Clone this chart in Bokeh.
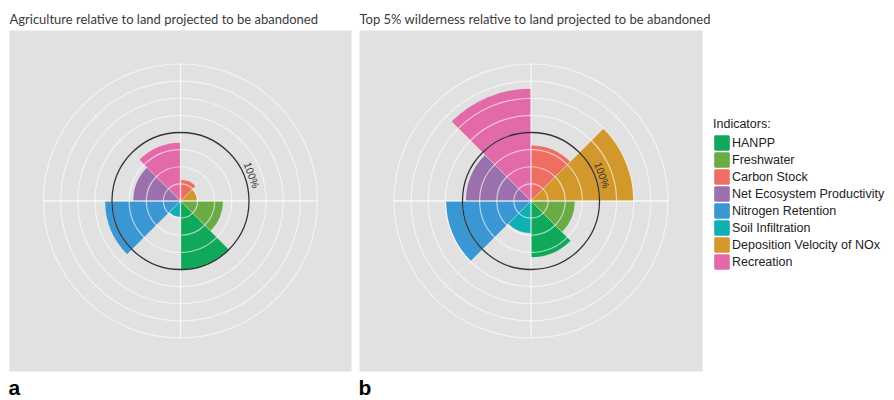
import math
from bokeh.plotting import figure
from bokeh.models import Range1d, Title, Legend, LegendItem, ColumnDataSource, Label
from bokeh.layouts import row
from bokeh.embed import file_html
from bokeh.resources import INLINE

# ---------------- data ----------------
indicators = ["HANPP", "Freshwater", "Carbon Stock", "Net Ecosystem Productivity",
              "Nitrogen Retention", "Soil Infiltration", "Deposition Velocity of NOx",
              "Recreation"]
colors = ["#10a85a", "#6aab45", "#ef6e63", "#9a71ad", "#3b97d3", "#10afb4",
          "#d2982b", "#e26aa8"]
# sector order, clockwise from 12 o'clock
sector_order = ["Carbon Stock", "Deposition Velocity of NOx", "Freshwater", "HANPP",
                "Soil Infiltration", "Nitrogen Retention", "Net Ecosystem Productivity",
                "Recreation"]
# values (%), aligned with `indicators`
agriculture = [101, 62, 31, 69, 110, 23, 24, 85]
wilderness = [82, 64, 81, 95, 124, 47, 150, 164]
ring_breaks = [25, 50, 75, 100, 125, 150, 175, 200]
reference_level = 100
titles = ["Agriculture relative to land projected to be abandoned",
          "Top 5% wilderness relative to land projected to be abandoned"]
panel_letters = ["a", "b"]

# ---------------- styling ----------------
PX_PER_UNIT = 0.685
BG = "#e1e1e1"
TITLE_FONT = "Lato"
SANS = "Liberation Sans"


def sector_angles(name):
    k = sector_order.index(name)
    step = 2 * math.pi / len(sector_order)
    return math.pi / 2 - (k + 1) * step, math.pi / 2 - k * step


def polar_figure(vals, title, letter, frame_w, left_border, right_border):
    fh = 341
    p = figure(frame_width=frame_w, frame_height=fh,
               x_range=Range1d(-frame_w / 2 / PX_PER_UNIT, frame_w / 2 / PX_PER_UNIT),
               y_range=Range1d(-fh / 2 / PX_PER_UNIT, fh / 2 / PX_PER_UNIT),
               toolbar_location=None, output_backend="svg",
               x_axis_location=None, y_axis_location=None,
               min_border_left=left_border, min_border_right=right_border,
               min_border_top=30, min_border_bottom=28,
               background_fill_color=BG, border_fill_color="white",
               outline_line_color=None)
    p.grid.visible = False
    p.title.text = title
    p.title.text_font = TITLE_FONT
    p.title.text_font_size = "13px"
    p.title.text_font_style = "normal"
    p.title.text_color = "#3a3a3a"
    p.title.offset = 0
    p.title.standoff = 7

    starts, ends = zip(*[sector_angles(n) for n in indicators])
    src = ColumnDataSource(dict(name=indicators, r=vals, start=list(starts),
                                end=list(ends), color=colors))
    p.wedge(x=0, y=0, radius="r", start_angle="start", end_angle="end",
            fill_color="color", line_color=None, source=src)

    # grid rings
    n = len(ring_breaks)
    p.circle(x=[0] * n, y=[0] * n, radius=ring_breaks, fill_color=None,
             line_color="white", line_alpha=0.6, line_width=1.2)
    # radial lines
    rmax = max(ring_breaks)
    major = [i * math.pi / 2 for i in range(4)]
    minor = [math.pi / 4 + i * math.pi / 2 for i in range(4)]
    p.segment(x0=[0] * 4, y0=[0] * 4, x1=[rmax * math.cos(a) for a in major],
              y1=[rmax * math.sin(a) for a in major], line_color="white",
              line_alpha=0.75, line_width=1.3)
    p.segment(x0=[0] * 4, y0=[0] * 4, x1=[rmax * math.cos(a) for a in minor],
              y1=[rmax * math.sin(a) for a in minor], line_color="white",
              line_alpha=0.35, line_width=1.0)
    # 100% reference circle
    p.circle(x=[0], y=[0], radius=[reference_level], fill_color=None,
             line_color="#333333", line_width=1.3)
    lab_r = reference_level * 1.11
    lab_a = 20.0
    p.add_layout(Label(x=lab_r * math.cos(math.radians(lab_a)),
                       y=lab_r * math.sin(math.radians(lab_a)),
                       text="100%", angle=lab_a - 90, angle_units="deg",
                       text_font=SANS, text_font_size="10.5px", text_color="#333333",
                       text_align="center", text_baseline="middle"))

    p.add_layout(Title(text=letter, text_font=SANS, text_font_size="21px",
                       text_font_style="bold", text_color="black", align="left",
                       offset=-1, standoff=5), "below")
    return p, src


pa, _ = polar_figure(agriculture, titles[0], panel_letters[0], 342, 9, 2)
pb, src_b = polar_figure(wilderness, titles[1], panel_letters[1], 343, 6, 0)

# legend proxy: zero-radius wedges sharing the bars' data, drawn only as legend keys
proxy = pb.wedge(x=0, y=0, radius=0, start_angle="start", end_angle="end",
                 fill_color="color", line_color="color", line_width=2, source=src_b)

legend = Legend(items=[LegendItem(label=n, renderers=[proxy], index=i)
                       for i, n in enumerate(indicators)],
                title="Indicators:", location=(11, 101),
                title_text_font=SANS, title_text_font_size="12.5px",
                title_text_font_style="normal", title_text_color="#222222",
                label_text_font=SANS, label_text_font_size="12.5px",
                label_text_color="#222222",
                glyph_width=17, glyph_height=17, label_height=17, spacing=0,
                label_standoff=2, padding=5, margin=0, title_standoff=3,
                border_line_color=None, background_fill_alpha=0)
pb.add_layout(legend, "right")

layout = row(pa, pb)
open("out.html", "w").write(file_html(layout, INLINE))
